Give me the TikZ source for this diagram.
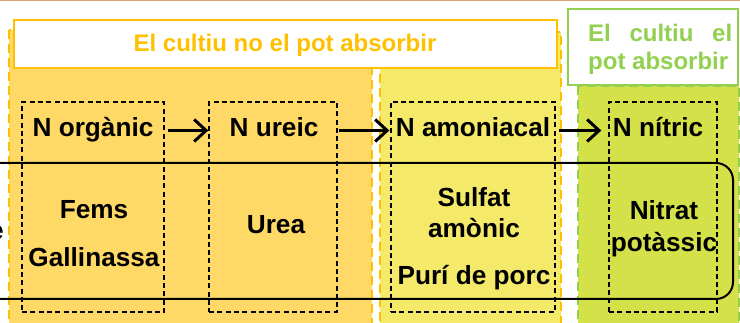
\documentclass[tikz,border=0pt]{standalone}
\usepackage{fontspec}
\setmainfont{Liberation Sans}
\usetikzlibrary{arrows.meta}
\definecolor{orfill}{RGB}{255,217,102}
\definecolor{yefill}{RGB}{245,233,106}
\definecolor{grfill}{RGB}{212,225,72}
\definecolor{orline}{RGB}{255,192,0}
\definecolor{grline}{RGB}{146,208,80}
\definecolor{topline}{RGB}{222,165,115}
\begin{document}
\begin{tikzpicture}[x=1pt,y=-1pt,
 region/.style={line width=1.8pt,dash pattern=on 9pt off 5pt},
 titlebox/.style={draw,fill=white,line width=1.5pt,inner sep=0pt},
 dbox/.style={draw=black,dash pattern=on 5pt off 3.3pt,line width=1.3pt,inner sep=0pt},
 lab/.style={font=\fontsize{26.2}{30}\selectfont\bfseries,inner sep=0pt,anchor=base},
 nlab/.style={lab,text height=19pt,text depth=6pt},
 ttl/.style={font=\fontsize{24}{28}\selectfont\bfseries,inner sep=0pt,anchor=base},
 arr/.style={-{Straight Barb[length=12pt,width=22pt]},line width=3pt}]
\clip (0,0) rectangle (740,323);
\draw[topline,line width=1pt] (0,0.5) -- (740,0.5);
% regions
\draw[region,draw=orline,fill=orfill] (9,30) rectangle (372,340);
\draw[region,draw=orline,fill=yefill] (380,32) rectangle (561,340);
\draw[region,draw=grline,fill=grfill] (578,86) rectangle (739,340);
% titles
\node[titlebox,draw=orline,minimum width=543pt,minimum height=48pt] (t1) at (285.5,44) {};
\node[ttl,text=orline] (t1txt) at (285,52) {El cultiu no el pot absorbir};
\node[titlebox,draw=grline,minimum width=170pt,minimum height=76pt] (t2) at (653,47) {};
\node[ttl,text=grline,anchor=base west] (t2a) at (588,42) {\makebox[144pt][s]{El cultiu el}};
\node[ttl,text=grline,anchor=base west] (t2b) at (588,70) {pot absorbir};
% dashed boxes
\node[dbox,minimum width=142pt,minimum height=210pt] (b1) at (93,207) {};
\node[dbox,minimum width=128pt,minimum height=210pt] (b2) at (273,207) {};
\node[dbox,minimum width=164pt,minimum height=210pt] (b3) at (473,207) {};
\node[dbox,minimum width=108pt,minimum height=210pt] (b4) at (663,207) {};
% rounded frame
\draw[line width=2pt,rounded corners=17pt] (-30,163) rectangle (733,299);
\node[lab,anchor=base east] (ecut) at (4,240) {e};
% labels
\node[nlab] (n1) at (93,137) {N orgànic};
\node[nlab] (n2) at (274,137) {N ureic};
\node[nlab] (n3) at (473,137) {N amoniacal};
\node[nlab] (n4) at (658,137) {N nítric};
\node[lab] (fems) at (94,219) {Fems};
\node[lab] (gall) at (94,267) {Gallinassa};
\node[lab] (urea) at (276,234) {Urea};
\node[lab] (sulf) at (474,207) {Sulfat};
\node[lab] (amon) at (474,238) {amònic};
\node[lab] (puri) at (474,285) {Purí de porc};
\node[lab] (nitr) at (664,220) {Nitrat};
\node[lab] (pota) at (664,252) {potàssic};
% arrows
\draw[arr,shorten <=3pt] (b1.east |- n1.center) -- (b2.west |- n1.center);
\draw[arr,shorten <=1pt,shorten >=1pt] (b2.east |- n2.center) -- (b3.west |- n2.center);
\draw[arr,shorten <=3pt,shorten >=7pt] (b3.east |- n3.center) -- (b4.west |- n3.center);
\end{tikzpicture}
\end{document}
